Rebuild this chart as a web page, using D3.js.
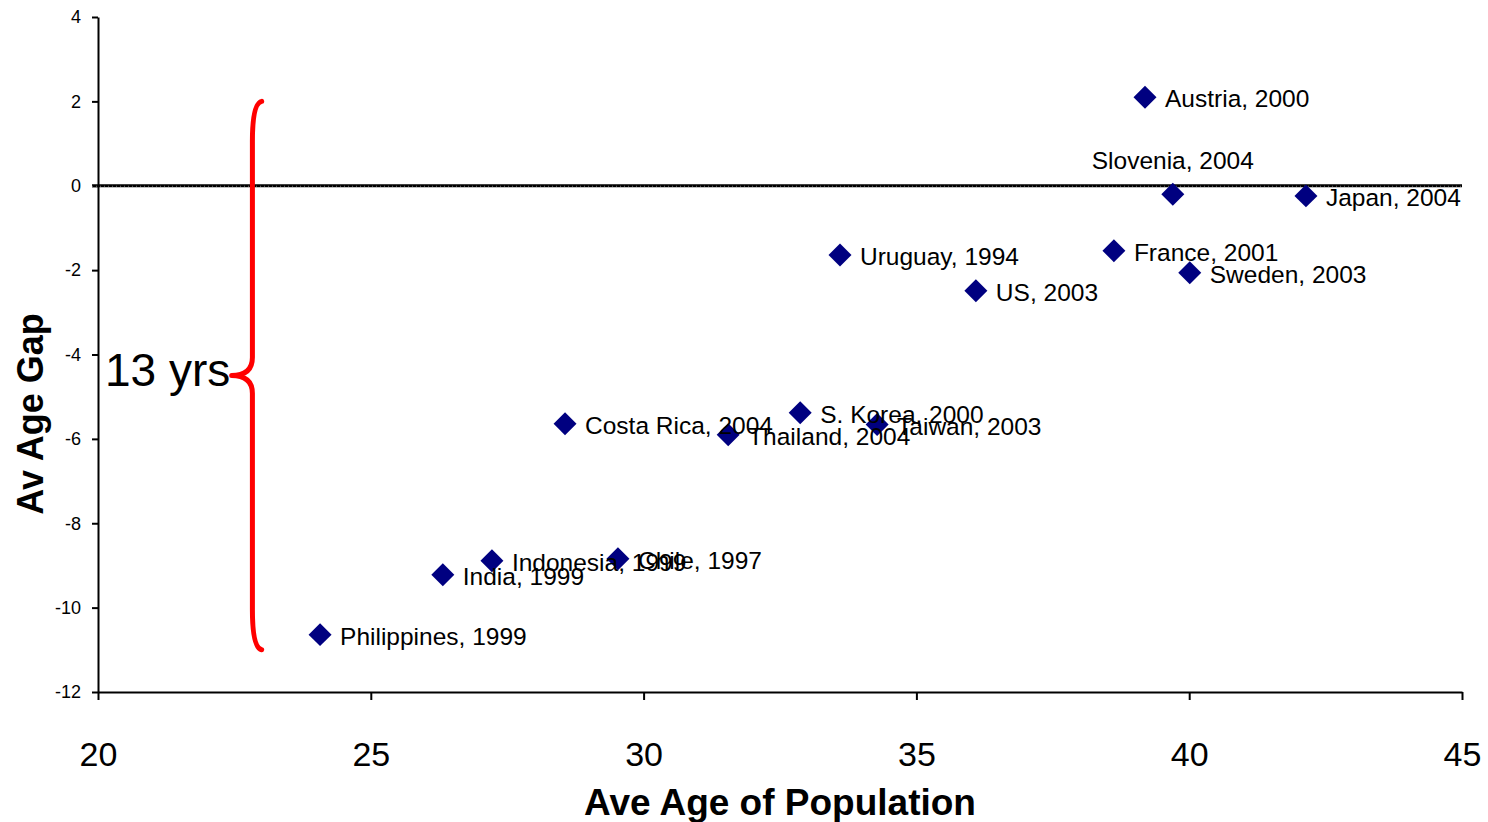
<!DOCTYPE html>
<html>
<head>
<meta charset="utf-8">
<script src="https://cdn.jsdelivr.net/npm/d3@7"></script>
<style>
  html, body { margin: 0; padding: 0; background: #fff; }
  svg { display: block; font-family: "Liberation Sans", Arial, sans-serif; }
</style>
</head>
<body>
<svg id="chart" width="1488" height="822"></svg>
<script>
// Country observations: average age of population vs. average age gap
const countries = ["Austria", "Slovenia", "Japan", "Uruguay", "France", "Sweden", "US",
  "Costa Rica", "Thailand", "S. Korea", "Taiwan", "Indonesia", "Chile", "India", "Philippines"];
const years = [2000, 2004, 2004, 1994, 2001, 2003, 2003, 2004, 2004, 2000, 2003, 1999, 1997, 1999, 1999];
const aveAge = [39.19, 39.70, 42.14, 33.60, 38.62, 40.01, 36.09, 28.56, 31.55, 32.87, 34.28, 27.22, 29.53, 26.32, 24.07];
const ageGap = [2.1, -0.2, -0.24, -1.64, -1.54, -2.06, -2.49, -5.64, -5.90, -5.38, -5.66, -8.89, -8.84, -9.22, -10.64];

const xTicks = [20, 25, 30, 35, 40, 45];
const yTicks = [4, 2, 0, -2, -4, -6, -8, -10, -12];

// Span marked by the brace
const braceTop = 2, braceBottom = -11;
const braceLabel = "13 yrs";

const svg = d3.select("#chart");
const margin = { left: 98, right: 26, top: 17, bottom: 130 };
const W = 1488, H = 822;

const x = d3.scaleLinear().domain([20, 45]).range([margin.left, W - margin.right]);
const y = d3.scaleLinear().domain([-12, 4]).range([H - margin.bottom, margin.top]);

// Plain hyphen for negative numbers
const fmt = d => String(d);

// Axes
const xAxis = d3.axisBottom(x).tickValues(xTicks).tickFormat(fmt).tickSize(8).tickSizeOuter(0).tickPadding(42);
const yAxis = d3.axisLeft(y).tickValues(yTicks).tickFormat(fmt).tickSize(6).tickSizeOuter(0).tickPadding(11);

const gx = svg.append("g").attr("transform", `translate(0,${y(-12)})`).call(xAxis);
gx.select(".domain").attr("stroke", "#000").attr("stroke-width", 2);
gx.selectAll(".tick line").attr("stroke", "#000").attr("stroke-width", 2);
gx.selectAll(".tick text").attr("fill", "#000").attr("font-size", 34).attr("font-family", "Liberation Sans, Arial, sans-serif")
  .attr("dy", "0.71em");

const gy = svg.append("g").attr("transform", `translate(${x(20)},0)`).call(yAxis);
gy.select(".domain").attr("stroke", "#000").attr("stroke-width", 2);
gy.selectAll(".tick line").attr("stroke", "#000").attr("stroke-width", 2);
gy.selectAll(".tick text").attr("fill", "#000").attr("font-size", 18).attr("font-family", "Liberation Sans, Arial, sans-serif");

// Zero reference line
svg.append("line")
  .attr("x1", x(20) - 6).attr("x2", x(45))
  .attr("y1", y(0)).attr("y2", y(0))
  .attr("stroke", "#000").attr("stroke-width", 3);
svg.append("line")
  .attr("x1", x(20) - 6).attr("x2", x(45))
  .attr("y1", y(0) + 0.5).attr("y2", y(0) + 0.5)
  .attr("stroke", "#777").attr("stroke-width", 1).attr("stroke-dasharray", "1,3");

// Axis titles
svg.append("text")
  .attr("x", (x(20) + x(45)) / 2).attr("y", 815)
  .attr("text-anchor", "middle").attr("font-size", 37).attr("font-weight", "bold")
  .text("Ave Age of Population");

svg.append("text")
  .attr("transform", `translate(43,414) rotate(-90)`)
  .attr("text-anchor", "middle").attr("font-size", 36).attr("font-weight", "bold")
  .text("Av Age Gap");

// Red brace
const xr = x(23.0), xm = x(22.83), xt = x(22.45);
const yt = y(braceTop), yb = y(braceBottom), ym = (yt + yb) / 2;
const bracePath = d3.path();
bracePath.moveTo(xr, yt);
bracePath.quadraticCurveTo(xm, yt + 2, xm, yt + 40);
bracePath.lineTo(xm, ym - 18);
bracePath.quadraticCurveTo(xm, ym, xt, ym);
bracePath.quadraticCurveTo(xm, ym, xm, ym + 18);
bracePath.lineTo(xm, yb - 40);
bracePath.quadraticCurveTo(xm, yb - 2, xr, yb);
svg.append("path")
  .attr("d", bracePath.toString())
  .attr("fill", "none").attr("stroke", "#ff0000").attr("stroke-width", 5)
  .attr("stroke-linecap", "round").attr("stroke-linejoin", "round");

svg.append("text")
  .attr("x", x(20) + 7).attr("y", ym + 10)
  .attr("font-size", 46).attr("fill", "#000")
  .text(braceLabel);

// Points
const points = countries.map((c, i) => ({ name: c, year: years[i], x: aveAge[i], y: ageGap[i] }));
const diamond = d3.symbol().type(d3.symbolSquare).size(264);
const labelAbove = new Set(["Slovenia"]);

const pg = svg.append("g");
pg.selectAll("path")
  .data(points)
  .join("path")
  .attr("d", diamond)
  .attr("transform", d => `translate(${x(d.x)},${y(d.y)}) rotate(45)`)
  .attr("fill", "#000080");

pg.selectAll("text")
  .data(points)
  .join("text")
  .attr("x", d => labelAbove.has(d.name) ? x(d.x) : x(d.x) + 20)
  .attr("y", d => labelAbove.has(d.name) ? y(d.y) - 25 : y(d.y) + 10)
  .attr("text-anchor", d => labelAbove.has(d.name) ? "middle" : "start")
  .attr("font-size", 24.5).attr("fill", "#000")
  .text(d => `${d.name}, ${d.year}`);
</script>
</body>
</html>
